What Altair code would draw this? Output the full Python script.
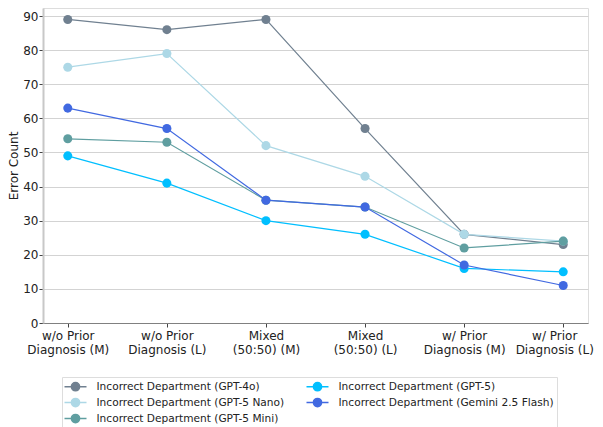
import altair as alt
import pandas as pd

categories = ["w/o Prior\nDiagnosis (M)", "w/o Prior\nDiagnosis (L)", "Mixed\n(50:50) (M)",
              "Mixed\n(50:50) (L)", "w/ Prior\nDiagnosis (M)", "w/ Prior\nDiagnosis (L)"]
series = ["Incorrect Department (GPT-4o)", "Incorrect Department (GPT-5 Nano)",
          "Incorrect Department (GPT-5 Mini)", "Incorrect Department (GPT-5)",
          "Incorrect Department (Gemini 2.5 Flash)"]
colors = ["#708090", "#ADD8E6", "#5F9EA0", "#00BFFF", "#4169E1"]
gpt4o = [89, 86, 89, 57, 26, 23]
gpt5_nano = [75, 79, 52, 43, 26, 24]
gpt5_mini = [54, 53, 36, 34, 22, 24]
gpt5 = [49, 41, 30, 26, 16, 15]
gemini = [63, 57, 36, 34, 17, 11]
values = [gpt4o, gpt5_nano, gpt5_mini, gpt5, gemini]

rows = []
for s, vals in zip(series, values):
    for c, v in zip(categories, vals):
        rows.append({"cond": c, "count": v, "series": s})
df = pd.DataFrame(rows)

# legend order row-major for 2 columns (reference fills column-wise)
legend_order = [series[0], series[3], series[1], series[4], series[2]]
legend_colors = [colors[series.index(s)] for s in legend_order]

color_scale = alt.Scale(domain=legend_order, range=legend_colors)

sym = "M-2,0H2M-0.75,0A0.75,0.75,0,1,1,0.75,0A0.75,0.75,0,1,1,-0.75,0Z"

x = alt.X("cond:N", sort=categories, title=None,
          scale=alt.Scale(type="point", padding=0.25),
          axis=alt.Axis(labelAngle=0, labelExpr="split(datum.label, '\\n')",
                        labelOffset={"condition": {"test": "indexof(datum.value, 'w/ Prior') == 0 && indexof(datum.value, '(L)') > 0",
                                                   "value": -9}, "value": 0},
                        labelFontSize=12, labelColor="#222", tickColor="#444",
                        tickSize=4, domainColor="#808080", grid=False, labelPadding=3,
                        labelLineHeight=14))
y = alt.Y("count:Q", title="Error Count",
          scale=alt.Scale(domain=[0, 92.35], nice=False, zero=True),
          axis=alt.Axis(values=list(range(0, 100, 10)), labelFontSize=12, labelColor="#222",
                        titleFontSize=12, titleFontWeight="normal", titleColor="#222",
                        tickColor="#444", tickSize=4, domainColor="#c8c8c8", domainWidth=2,
                        gridColor="#d3d3d3", gridWidth=1, titlePadding=2, labelPadding=1))

legend = alt.Legend(title=None, orient="none", legendX=19, legendY=369,
                    direction="horizontal", columns=2,
                    symbolType=sym, symbolSize=121, symbolStrokeWidth=1.5,
                    symbolOffset=4, labelOffset=14.5,
                    labelExpr="indexof(datum.label, 'Gemini') >= 0 ? datum.label + '\u00a0\u00a0\u00a0\u00a0\u00a0\u00a0\u00a0\u00a0\u00a0' : datum.label",
                    labelFontSize=10.6, labelColor="#222", columnPadding=18, rowPadding=1,
                    strokeColor="#dddddd", padding=3, labelLimit=300)

layers = []
for i, s in enumerate(series):
    d = df[df["series"] == s]
    base = alt.Chart(d)
    line = base.mark_line(strokeWidth=1.2).encode(
        x=x, y=y, color=alt.Color("series:N", scale=color_scale, legend=legend))
    pts = base.mark_point(filled=True, size=82, opacity=1).encode(
        x=x, y=y, color=alt.Color("series:N", scale=color_scale, legend=legend))
    layers += [line, pts]

chart = alt.layer(*layers).properties(
    width=545, height=315,
    autosize=alt.AutoSizeParams(type="none"),
    padding={"left": 35, "top": 0, "right": 7, "bottom": 104}
).configure_view(stroke="#888", strokeWidth=1).configure(font="DejaVu Sans")

chart.save("out.html", embed_options={"renderer": "svg", "actions": False})
